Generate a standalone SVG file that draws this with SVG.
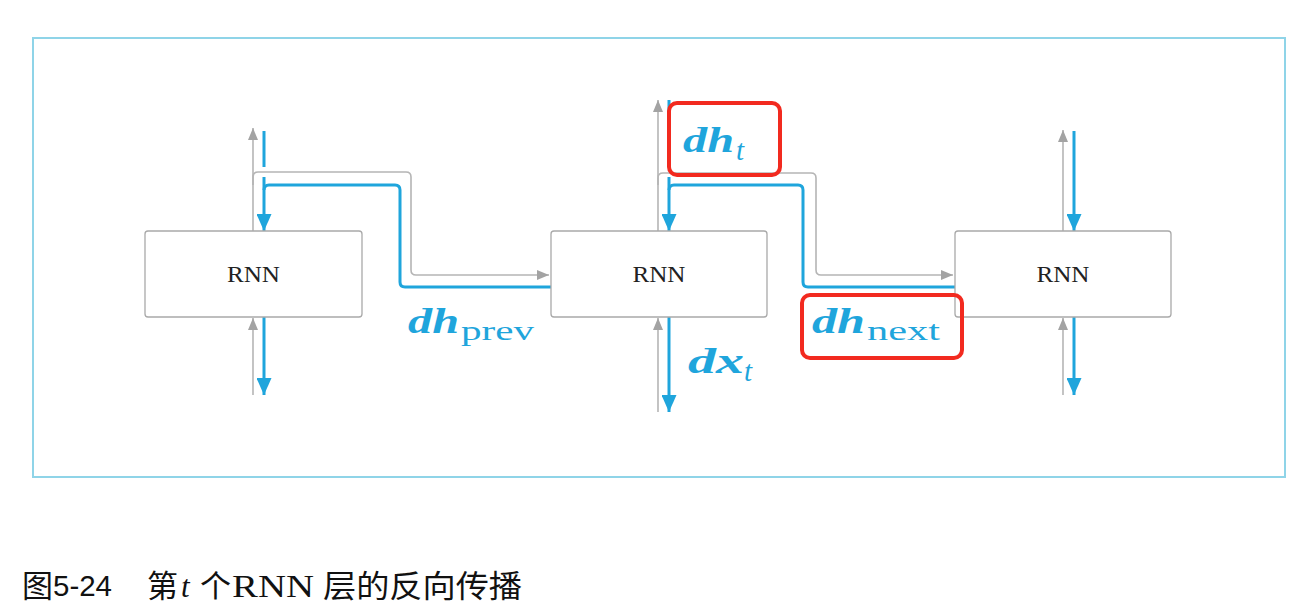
<svg xmlns="http://www.w3.org/2000/svg" width="1302" height="612" viewBox="0 0 1302 612">
<style>
.frame{fill:none;stroke:#8fd4e8;stroke-width:2}
.box{fill:#fff;stroke:#a9a9a9;stroke-width:1.3}
.lbl{font-family:"Liberation Serif",serif;font-size:23px;fill:#222;text-anchor:middle}
.g{fill:none;stroke:#b5b5b5;stroke-width:1.6}
.b{fill:none;stroke:#1fa5dc;stroke-width:3}
.ga{marker-end:url(#mg)}
.ba{marker-end:url(#mb)}
.red{fill:none;stroke:#f22a1f;stroke-width:4}
.m{font-family:"Liberation Serif",serif;font-weight:bold;font-style:italic;font-size:35px;fill:#1fa5dc}
.s{font-family:"Liberation Serif",serif;font-size:27px;fill:#1fa5dc}
.si{font-family:"Liberation Serif",serif;font-style:italic;font-size:29px;fill:#1fa5dc}
.cap{font-family:"Noto Sans CJK SC",sans-serif;font-size:31px;fill:#111}
.capl{font-family:"Liberation Serif",serif;font-size:31px;fill:#111}
</style>
<defs>
<marker id="mg" markerUnits="userSpaceOnUse" markerWidth="12" markerHeight="10" refX="12" refY="5" orient="auto"><path d="M0,0 L12,5 L0,10 z" fill="#a3a3a3"/></marker>
<marker id="mb" markerUnits="userSpaceOnUse" markerWidth="17" markerHeight="15" refX="17" refY="7.5" orient="auto"><path d="M0,0 L17,7.5 L0,15 z" fill="#1fa5dc"/></marker>
</defs>
<rect class="frame" x="33" y="38" width="1252" height="439"/>
<g id="connectors">
<line class="g ga" x1="253" y1="231" x2="253" y2="128"/>
<line class="b" x1="264" y1="131" x2="264" y2="167"/>
<path class="g ga" d="M253,185 V177 Q253,172 258,172 H406 Q411,172 411,177 V270 Q411,275 416,275 H549"/>
<path class="b" d="M551,287 H405 Q400,287 400,282 V190 Q400,185 395,185 H269 Q264,185 264,190"/>
<line class="b ba" x1="264" y1="177" x2="264" y2="231"/>
<line class="g ga" x1="253" y1="395" x2="253" y2="318"/>
<line class="b ba" x1="264" y1="317" x2="264" y2="395"/>
<line class="g ga" x1="658" y1="231" x2="658" y2="100"/>
<line class="b" x1="669" y1="100" x2="669" y2="167"/>
<path class="g ga" d="M658,185 V178 Q658,173 663,173 H811 Q816,173 816,178 V270 Q816,275 821,275 H953"/>
<path class="b" d="M955,287 H808 Q803,287 803,282 V190 Q803,185 798,185 H674 Q669,185 669,190"/>
<line class="b ba" x1="669" y1="177" x2="669" y2="231"/>
<line class="g ga" x1="658" y1="412" x2="658" y2="318"/>
<line class="b ba" x1="669" y1="317" x2="669" y2="412"/>
<line class="g ga" x1="1063" y1="231" x2="1063" y2="130"/>
<line class="b ba" x1="1074" y1="131" x2="1074" y2="231"/>
<line class="g ga" x1="1063" y1="395" x2="1063" y2="318"/>
<line class="b ba" x1="1074" y1="317" x2="1074" y2="395"/>
</g>
<g id="rnn1"><rect class="box" x="145" y="231" width="217" height="86" rx="3"/><text class="lbl" x="253.5" y="282" textLength="53" lengthAdjust="spacingAndGlyphs">RNN</text></g>
<g id="rnn2"><rect class="box" x="551" y="231" width="216" height="86" rx="3"/><text class="lbl" x="659" y="282" textLength="53" lengthAdjust="spacingAndGlyphs">RNN</text></g>
<g id="rnn3"><rect class="box" x="955" y="231" width="216" height="86" rx="3"/><text class="lbl" x="1063" y="282" textLength="53" lengthAdjust="spacingAndGlyphs">RNN</text></g>
<g id="label-dhprev"><text class="m" x="408" y="333" textLength="51" lengthAdjust="spacingAndGlyphs">dh</text><text class="s" x="461" y="340" textLength="73" lengthAdjust="spacingAndGlyphs">prev</text></g>
<g id="label-dht"><rect class="red" x="669" y="103" width="111" height="72" rx="8"/><text class="m" x="683" y="152" textLength="51" lengthAdjust="spacingAndGlyphs">dh</text><text class="si" x="736" y="160">t</text></g>
<g id="label-dhnext"><rect class="red" x="802" y="295" width="160" height="63" rx="8"/><text class="m" x="812" y="333" textLength="53" lengthAdjust="spacingAndGlyphs">dh</text><text class="s" x="867" y="340" textLength="73" lengthAdjust="spacingAndGlyphs">next</text></g>
<g id="label-dxt"><text class="m" x="688" y="373" textLength="56" lengthAdjust="spacingAndGlyphs">dx</text><text class="si" x="744" y="381">t</text></g>
<g id="caption">
<text class="cap" x="22" y="597">图</text>
<text x="53" y="596" font-family="'Liberation Sans',sans-serif" font-size="29" fill="#111" textLength="59" lengthAdjust="spacingAndGlyphs">5-24</text>
<text class="cap" x="147" y="597">第</text>
<text class="capl" x="181" y="597" font-style="italic" fill="#777">t</text>
<text class="cap" x="200" y="597">个</text>
<text class="capl" x="232" y="597" textLength="82" lengthAdjust="spacingAndGlyphs">RNN</text>
<text class="cap" x="323" y="597" font-size="33" textLength="199" lengthAdjust="spacingAndGlyphs">层的反向传播</text>
</g>
</svg>
